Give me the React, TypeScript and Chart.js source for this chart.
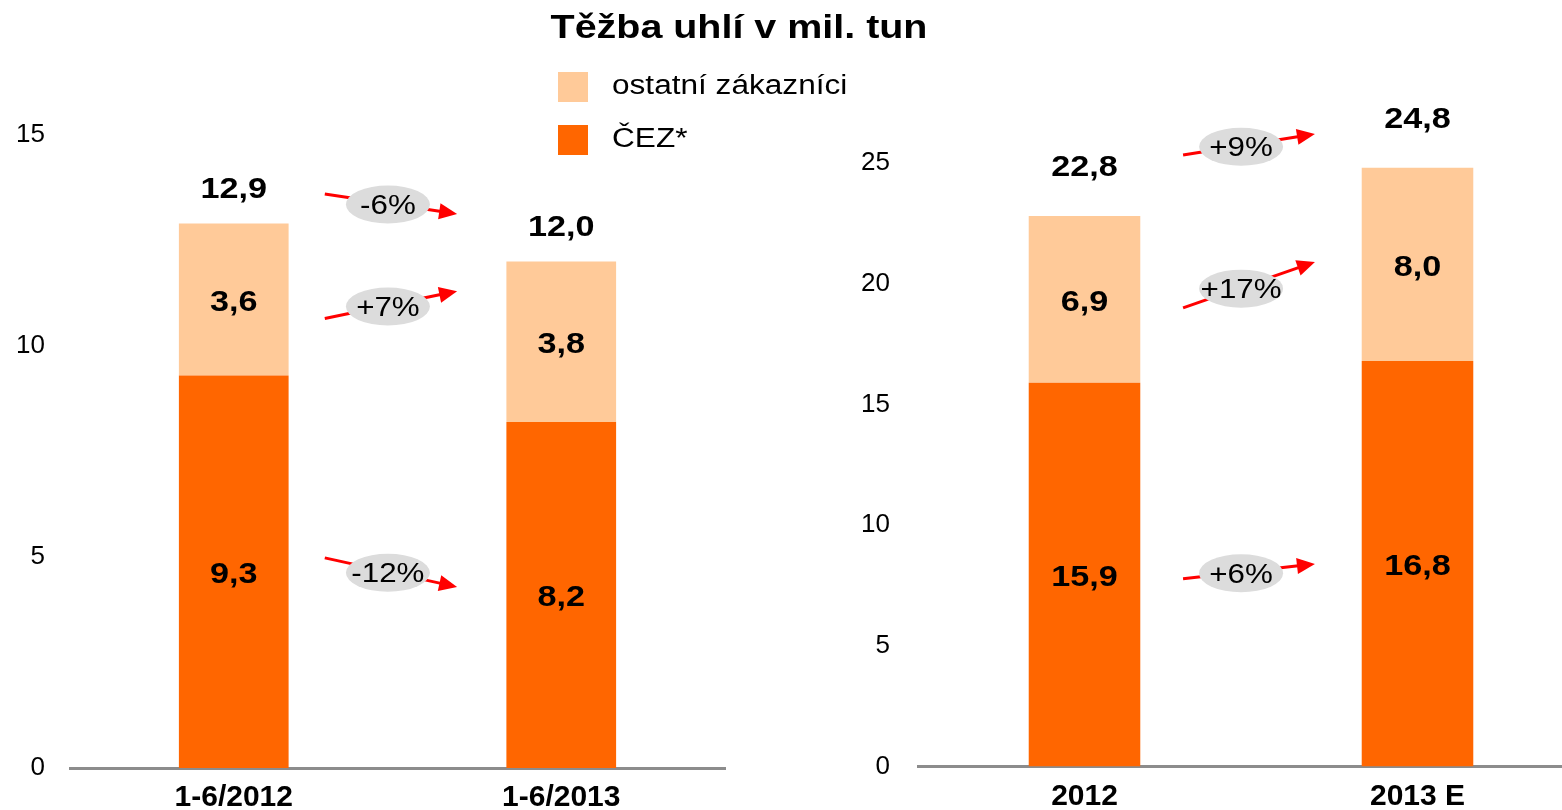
import React, { useEffect, useRef } from 'react';
import { Chart, registerables } from 'chart.js';

Chart.register(...registerables);

const TITLE = 'Těžba uhlí v mil. tun';
const SERIES_NAMES = ['ČEZ*', 'ostatní zákazníci'];
const SERIES_COLORS = ['#FF6600', '#FFCA99'];

const leftCategories = ['1-6/2012', '1-6/2013'];
const leftCez = [9.3, 8.2];
const leftOther = [3.6, 3.8];
const leftTotals = [12.9, 12.0];
const leftMax = 15;

const rightCategories = ['2012', '2013 E'];
const rightCez = [15.9, 16.8];
const rightOther = [6.9, 8.0];
const rightTotals = [22.8, 24.8];
const rightMax = 25;

const leftChangeLabels = ['-6%', '+7%', '-12%'];
const leftChangeFrom = [13.6, 10.65, 4.98];
const leftChangeTo = [13.13, 11.3, 4.29];

const rightChangeLabels = ['+9%', '+17%', '+6%'];
const rightChangeFrom = [25.33, 19.0, 7.77];
const rightChangeTo = [26.2, 20.9, 8.39];

const FONT = '"Liberation Sans", Arial, sans-serif';

const fmt = (v: number) => v.toFixed(1).replace('.', ',');

function stretchText(ctx: any, text: string, x: number, y: number, sx: number, align: string) {
  ctx.save();
  ctx.translate(x, y);
  ctx.scale(sx, 1);
  ctx.textAlign = align;
  ctx.fillText(text, 0, 0);
  ctx.restore();
}

const valueLabels = (totals: number[], totalOffset: number) => ({
  id: 'valueLabels',
  afterDatasetsDraw(chart: any) {
    const ctx = chart.ctx;
    ctx.save();
    ctx.font = `bold 30px ${FONT}`;
    ctx.fillStyle = '#000';
    ctx.textBaseline = 'middle';
    chart.data.datasets.forEach((ds: any, di: number) => {
      const meta = chart.getDatasetMeta(di);
      meta.data.forEach((bar: any, i: number) => {
        const p = bar.getProps(['x', 'y', 'base'], true);
        stretchText(ctx, fmt(ds.data[i]), p.x, (p.y + p.base) / 2 + 3, 1.14, 'center');
      });
    });
    const ys = chart.scales.y;
    const meta0 = chart.getDatasetMeta(0);
    totals.forEach((t, i) => {
      const x = meta0.data[i].x;
      stretchText(ctx, fmt(t), x, ys.getPixelForValue(t) - totalOffset, 1.14, 'center');
    });
    ctx.restore();
  },
});

const changeArrows = (
  labels: string[],
  from: number[],
  to: number[],
  fStart: number,
  fEnd: number,
  fMid: number
) => ({
  id: 'changeArrows',
  afterDatasetsDraw(chart: any) {
    const ctx = chart.ctx;
    const xs = chart.scales.x;
    const ys = chart.scales.y;
    const c0 = xs.getPixelForValue(0);
    const c1 = xs.getPixelForValue(1);
    const gap = c1 - c0;
    labels.forEach((lab, i) => {
      const x1 = c0 + gap * fStart;
      const x2 = c0 + gap * fEnd;
      const y1 = ys.getPixelForValue(from[i]);
      const y2 = ys.getPixelForValue(to[i]);
      const ang = Math.atan2(y2 - y1, x2 - x1);
      const headLen = 18;
      const headHalf = 8;
      ctx.save();
      ctx.strokeStyle = '#FF0000';
      ctx.fillStyle = '#FF0000';
      ctx.lineWidth = 3;
      ctx.beginPath();
      ctx.moveTo(x1, y1);
      ctx.lineTo(x2 - Math.cos(ang) * headLen * 0.8, y2 - Math.sin(ang) * headLen * 0.8);
      ctx.stroke();
      ctx.beginPath();
      ctx.moveTo(x2, y2);
      const bx = x2 - Math.cos(ang) * headLen;
      const by = y2 - Math.sin(ang) * headLen;
      ctx.lineTo(bx - Math.sin(ang) * headHalf, by + Math.cos(ang) * headHalf);
      ctx.lineTo(bx + Math.sin(ang) * headHalf, by - Math.cos(ang) * headHalf);
      ctx.closePath();
      ctx.fill();
      const mx = x1 + (x2 - x1) * fMid;
      const my = y1 + (y2 - y1) * fMid + 1;
      ctx.fillStyle = '#DCDCDC';
      ctx.beginPath();
      ctx.ellipse(mx, my, 42, 19, 0, 0, Math.PI * 2);
      ctx.fill();
      ctx.fillStyle = '#000';
      ctx.font = `27px ${FONT}`;
      ctx.textBaseline = 'middle';
      stretchText(ctx, lab, mx, my + 2, 1.16, 'center');
      ctx.restore();
    });
  },
});

const titleLegend = {
  id: 'titleLegend',
  afterDraw(chart: any) {
    const ctx = chart.ctx;
    ctx.save();
    ctx.fillStyle = '#000';
    ctx.font = `bold 34px ${FONT}`;
    ctx.textBaseline = 'middle';
    stretchText(ctx, TITLE, 739, 29, 1.16, 'center');
    const items = [1, 0];
    items.forEach((si, k) => {
      const y = 72 + k * 53;
      ctx.fillStyle = SERIES_COLORS[si];
      ctx.fillRect(558, y, 30, 30);
      ctx.fillStyle = '#000';
      ctx.font = `27px ${FONT}`;
      ctx.textBaseline = 'middle';
      stretchText(ctx, SERIES_NAMES[si], 612, y + 15, 1.17, 'left');
    });
    ctx.restore();
  },
};

function makeConfig(
  categories: string[],
  cez: number[],
  other: number[],
  max: number,
  padding: any,
  tickPad: number,
  plugins: any[]
): any {
  return {
    type: 'bar',
    data: {
      labels: categories,
      datasets: [
        {
          label: SERIES_NAMES[0],
          data: cez,
          backgroundColor: SERIES_COLORS[0],
          barPercentage: 0.335,
          categoryPercentage: 1,
        },
        {
          label: SERIES_NAMES[1],
          data: other,
          backgroundColor: SERIES_COLORS[1],
          barPercentage: 0.335,
          categoryPercentage: 1,
        },
      ],
    },
    options: {
      responsive: false,
      animation: false,
      devicePixelRatio: 1,
      layout: { padding },
      plugins: {
        legend: { display: false },
        title: { display: false },
        tooltip: { enabled: false },
      },
      scales: {
        x: {
          stacked: true,
          grid: { display: true, color: 'rgba(0,0,0,0)', drawOnChartArea: false, drawTicks: false },
          border: { display: true, color: '#8C8C8C', width: 3 },
          ticks: {
            color: '#000',
            font: { family: FONT, size: 30, weight: 'bold' },
            padding: 12,
            maxRotation: 0,
          },
          afterFit: (s: any) => {
            s.height = 42;
          },
        },
        y: {
          stacked: true,
          min: 0,
          max,
          ticks: {
            stepSize: 5,
            color: '#000',
            font: { family: FONT, size: 26 },
            padding: tickPad,
          },
          grid: { display: false, drawTicks: false },
          border: { display: false },
          afterFit: (s: any) => {
            s.width = 70;
          },
        },
      },
    },
    plugins,
  };
}

export default function App() {
  const leftRef = useRef<HTMLCanvasElement>(null);
  const rightRef = useRef<HTMLCanvasElement>(null);

  useEffect(() => {
    const left = new Chart(
      leftRef.current as HTMLCanvasElement,
      makeConfig(
        leftCategories,
        leftCez,
        leftOther,
        leftMax,
        { left: 0, right: 837, top: 135, bottom: 0 },
        25,
        [
          valueLabels(leftTotals, 34),
          changeArrows(leftChangeLabels, leftChangeFrom, leftChangeTo, 0.278, 0.682, 0.477),
          titleLegend,
        ]
      )
    );
    const right = new Chart(
      rightRef.current as HTMLCanvasElement,
      makeConfig(
        rightCategories,
        rightCez,
        rightOther,
        rightMax,
        { left: 848, right: 16, top: 163, bottom: 0 },
        28,
        [
          valueLabels(rightTotals, 48),
          changeArrows(rightChangeLabels, rightChangeFrom, rightChangeTo, 0.296, 0.692, 0.44),
        ]
      )
    );
    return () => {
      left.destroy();
      right.destroy();
    };
  }, []);

  return (
    <div
      style={{
        position: 'fixed',
        left: 0,
        top: 0,
        width: 1562,
        height: 810,
        overflow: 'hidden',
        background: '#fff',
      }}
    >
      <canvas
        ref={leftRef}
        width={1562}
        height={810}
        style={{ position: 'absolute', left: 0, top: 0 }}
      />
      <canvas
        ref={rightRef}
        width={1600}
        height={810}
        style={{ position: 'absolute', left: 0, top: 0 }}
      />
    </div>
  );
}
